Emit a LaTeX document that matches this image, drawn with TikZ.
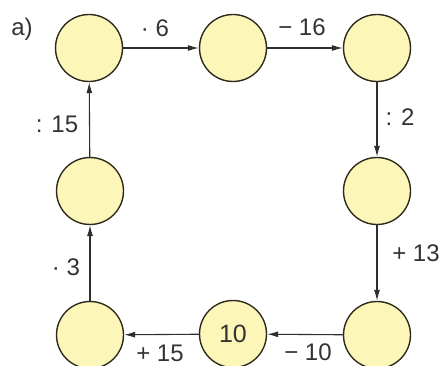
\documentclass[tikz,border=0pt]{standalone}
\usepackage{fontspec}
\setmainfont{Liberation Sans}
\usetikzlibrary{arrows.meta}
\definecolor{ringfill}{HTML}{FCF6B9}
\definecolor{ringline}{HTML}{2F2B1C}
\definecolor{linkcol}{HTML}{2E2E2E}
\definecolor{optext}{HTML}{333333}

\begin{document}
\begin{tikzpicture}[x=1pt,y=-1pt,
  ring/.style={circle, draw=ringline, line width=1.4pt, fill=ringfill, minimum size=67pt, inner sep=0pt, font=\fontsize{25}{28}\selectfont, text=optext},
  op/.style={font=\fontsize{24}{28}\selectfont, text=optext},
  link/.style={draw=linkcol, line width=1.1pt, -{Latex[length=11pt,width=6pt]}}]
\useasboundingbox (0,0) rectangle (447,366);
\node[ring] (A) at (89,48) {};
\node[ring] (B) at (233,48) {};
\node[ring] (C) at (377,48) {};
\node[ring] (D) at (377,191) {};
\node[ring] (E) at (377,335) {};
\node[ring] (F) at (233,334) {10};
\node[ring] (G) at (90,335) {};
\node[ring] (H) at (90,191) {};
\draw[link] (A) -- (B);
\draw[link] (B) -- (C);
\draw[link] (C) -- (D);
\draw[link] (D) -- (E);
\draw[link] (E) -- (F);
\draw[link] (F) -- (G);
\draw[link] (G) -- (H);
\draw[link] (H) -- (A);
\node[op] at (22,29) {a)};
\node[op] at (155,28) {· 6};
\node[op] at (302,27) {− 16};
\node[op] at (400,117) {: 2};
\node[op] at (416,253) {+ 13};
\node[op] at (308,352) {− 10};
\node[op] at (160,353) {+ 15};
\node[op] at (66,267) {· 3};
\node[op] at (57,124) {: 15};
\end{tikzpicture}
\end{document}
